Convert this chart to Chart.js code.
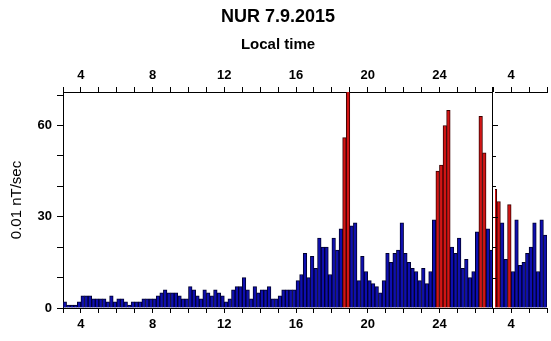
<!DOCTYPE html>
<html>
<head>
<meta charset="utf-8">
<title>NUR 7.9.2015</title>
<script src="https://cdn.jsdelivr.net/npm/chart.js@4/dist/chart.umd.min.js"></script>
<style>
  html, body { margin: 0; padding: 0; background: #fff; }
</style>
</head>
<body>
<canvas id="rateChart" width="551" height="341"></canvas>
<script>
// 12 minute bins, local time, starting 03:00
const firstHour = 3;
const binHours = 0.2;
const breakHour = 27;

// one row = one hour (5 bins), 03 .. 26 LT
const dayOneRate = [
    2, 1, 1, 1, 2,
    4, 4, 4, 3, 3,
    3, 3, 2, 4, 2,
    3, 3, 2, 1, 2,
    2, 2, 3, 3, 3,
    3, 4, 5, 6, 5,
    5, 5, 4, 3, 3,
    7, 6, 4, 3, 6,
    5, 4, 6, 5, 4,
    2, 3, 6, 7, 7,
    10, 6, 3, 7, 5,
    6, 6, 7, 3, 3,
    4, 6, 6, 6, 6,
    9, 11, 18, 10, 17,
    13, 23, 20, 20, 11,
    23, 19, 26, 56, 75,
    27, 28, 9, 17, 12,
    9, 8, 7, 5, 9,
    18, 15, 18, 19, 28,
    18, 15, 13, 12, 9,
    13, 8, 12, 29, 45,
    47, 60, 65, 20, 18,
    23, 13, 16, 10, 12,
    25, 63, 51, 26, 19
];
// 27 .. 29 LT (next day panel)
const dayTwoRate = [
    39, 35, 28, 16, 34,
    12, 29, 14, 15, 18,
    20, 28, 12, 29, 24
];
// start hour of the bins drawn in red
const flaggedStart = [18.6, 18.8, 23.8, 24.0, 24.2, 24.4, 26.2, 26.4, 27.0, 27.2, 27.8];

const xTickHours = [4, 8, 12, 16, 20, 24, 28];
const xTickText = ['4', '8', '12', '16', '20', '24', '4'];
const yTickLabels = [0, 30, 60];

const rates = dayOneRate.concat(dayTwoRate);
const isFlagged = (i) => flaggedStart.some(h => Math.abs(h - (firstHour + i * binHours)) < 0.01);

const barData = rates.map((y, i) => ({ x: firstHour + i * binHours + binHours / 2, y: y }));
const fillColors = rates.map((y, i) => isFlagged(i) ? '#d31414' : '#0e0eb0');
const edgeColors = rates.map((y, i) => isFlagged(i) ? '#3a0000' : '#00002e');

const fontFamily = "'Liberation Sans', Arial, sans-serif";
Chart.defaults.color = '#000';
Chart.defaults.font.family = fontFamily;

const hourTicks = {
    stepSize: 1,
    autoSkip: false,
    maxRotation: 0,
    padding: 4,
    font: { size: 13, weight: 'bold' },
    callback: (v) => {
        const k = xTickHours.indexOf(v);
        return k >= 0 ? xTickText[k] : '';
    }
};
const axisGrid = { offset: false, drawOnChartArea: false, drawTicks: true, tickLength: 5, color: '#000' };
const axisBorder = { display: true, color: '#000', width: 1 };

// day break: black line, white gap, small ticks of the second panel
const panelBreak = {
    id: 'panelBreak',
    afterDatasetsDraw(chart) {
        const { ctx, chartArea, scales } = chart;
        const px = Math.round(scales.x.getPixelForValue(breakHour));
        ctx.save();
        ctx.fillStyle = '#fff';
        ctx.fillRect(px, chartArea.top, 2, chartArea.bottom - chartArea.top);
        ctx.strokeStyle = '#000';
        ctx.lineWidth = 1;
        ctx.beginPath();
        ctx.moveTo(px - 0.5, chartArea.top - 5);
        ctx.lineTo(px - 0.5, chartArea.bottom);
        for (let v = 10; v <= 60; v += 10) {
            const py = Math.round(scales.y.getPixelForValue(v)) + 0.5;
            ctx.moveTo(px, py);
            ctx.lineTo(px + (v % 30 === 0 ? 5 : 3), py);
        }
        ctx.stroke();
        ctx.restore();
    }
};

const rateChart = new Chart(document.getElementById('rateChart'), {
    type: 'bar',
    data: {
        datasets: [{
            data: barData,
            backgroundColor: fillColors,
            borderColor: edgeColors,
            borderWidth: 1,
            barPercentage: 1,
            categoryPercentage: 1,
            xAxisID: 'x',
            yAxisID: 'y'
        }]
    },
    options: {
        responsive: false,
        animation: false,
        devicePixelRatio: 1,
        layout: { padding: { left: 8, right: 3, top: 0, bottom: 0 } },
        plugins: {
            legend: { display: false },
            tooltip: { enabled: false },
            title: {
                display: true,
                text: 'NUR 7.9.2015',
                font: { size: 18, weight: 'bold' },
                padding: { top: 6, bottom: 4 }
            },
            subtitle: {
                display: true,
                text: 'Local time',
                color: '#000',
                font: { size: 15, weight: 'bold' },
                padding: { top: 4, bottom: 0 }
            }
        },
        scales: {
            x: {
                type: 'linear',
                position: 'bottom',
                min: 3,
                max: 30,
                offset: false,
                ticks: hourTicks,
                grid: axisGrid,
                border: axisBorder,
                afterFit: (s) => { s.height = 33; }
            },
            x2: {
                type: 'linear',
                position: 'top',
                min: 3,
                max: 30,
                offset: false,
                ticks: hourTicks,
                grid: axisGrid,
                border: axisBorder,
                afterFit: (s) => { s.height = 38.4; }
            },
            y: {
                min: 0,
                max: 71,
                ticks: {
                    stepSize: 10,
                    includeBounds: false,
                    padding: 5,
                    font: { size: 13, weight: 'bold' },
                    callback: (v) => yTickLabels.includes(v) ? String(v) : ''
                },
                grid: { drawOnChartArea: false, drawTicks: true, tickLength: 6, color: '#000' },
                border: axisBorder,
                title: {
                    display: true,
                    text: '0.01 nT/sec',
                    font: { size: 15 },
                    padding: { top: 0, bottom: 0 }
                },
                afterFit: (s) => { s.width = 55; }
            }
        }
    },
    plugins: [panelBreak]
});
</script>
</body>
</html>
